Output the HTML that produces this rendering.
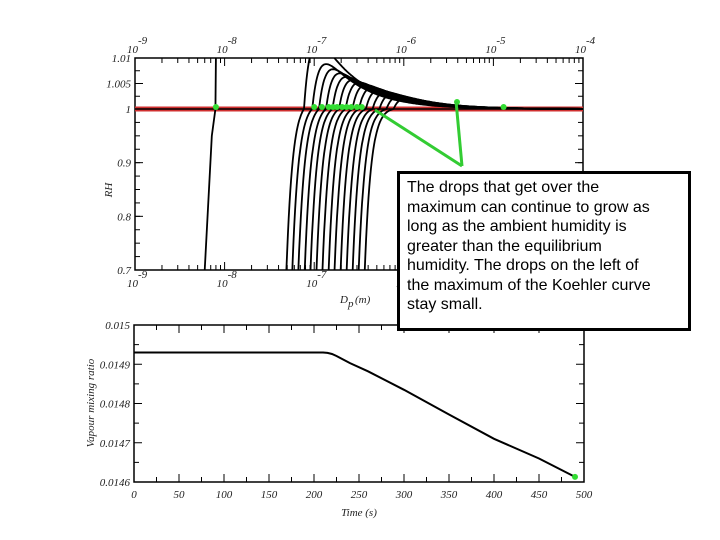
<!DOCTYPE html>
<html><head><meta charset="utf-8"><style>
html,body{margin:0;padding:0;background:#fff;width:720px;height:540px;overflow:hidden}
svg text{font-family:"Liberation Serif",serif;font-style:italic;font-size:11px;fill:#222}
#note{position:absolute;left:397px;top:171px;width:294px;height:160px;border:3px solid #000;background:#fff;
font-family:"Liberation Sans",sans-serif;font-size:16px;line-height:19.5px;color:#000;padding:4px 0 0 7px;box-sizing:border-box;white-space:nowrap}
</style></head><body>
<svg id="chart" width="720" height="540" style="position:absolute;left:0;top:0"></svg>
<div id="note">The drops that get over the<br>maximum can continue to grow as<br>long as the ambient humidity is<br>greater than the equilibrium<br>humidity. The drops on the left of<br>the maximum of the Koehler curve<br>stay small.</div>
<script>
// Koehler curves: critical diameter (m) and peak RH
const critDiam=[1.10e-7,1.36e-7,1.62e-7,1.94e-7,2.29e-7,2.71e-7,3.21e-7,3.82e-7,4.53e-7,5.40e-7,6.43e-7,7.65e-7,9.16e-7,1.10e-6];
const critRH=[1.013,1.0088,1.0078,1.007,1.0063,1.0057,1.0052,1.0047,1.0042,1.0037,1.0033,1.0029,1.0025,1.0021];
// small steep drop curve
const smallD=[6.0e-9,7.2e-9,7.9e-9,8.0e-9];
const smallRH=[0.7,0.95,1.0,1.01];
// green markers on RH=1
const markD=[8.0e-9,1.0e-7,1.22e-7,1.45e-7,1.62e-7,1.8e-7,2.05e-7,2.3e-7,2.6e-7,3.0e-7,3.4e-7,1.3e-5];
// time series
const timeS=[0,100,210,215,220,225,230,240,260,300,350,400,450,490];
const vmr=[0.01493,0.01493,0.01493,0.014929,0.014926,0.014921,0.014915,0.014903,0.014882,0.014835,0.014772,0.01471,0.01466,0.014613];
const xTicksT=[0,50,100,150,200,250,300,350,400,450,500];
const yTicksV=[0.0146,0.0147,0.0148,0.0149,0.015];
const yTicksRH=[0.7,0.8,0.9,1,1.005,1.01];

const S=document.getElementById('chart'),NS='http://www.w3.org/2000/svg';
function el(t,a,p){const e=document.createElementNS(NS,t);for(const k in a)e.setAttribute(k,a[k]);(p||S).appendChild(e);return e;}
const L=135,R=583,T=58,B=270;
const xD=d=>L+(Math.log10(d)+9)*(R-L)/5;
const yRH=v=>v>=1?109-(v-1)*5100:109+(1-v)*(B-109)/0.3;
const defs=el('defs',{});const cp=el('clipPath',{id:'c1'},defs);el('rect',{x:L,y:T,width:R-L,height:B-T},cp);
let f=el('rect',{x:L,y:T,width:R-L,height:B-T,fill:'none',stroke:'#000','stroke-width':1.5});

for(let e=-9;e<=-4;e++){for(let m=1;m<10;m++){if(e==-4&&m>1)break;const x=xD(m*Math.pow(10,e));const len=m==1?8:5;
el('line',{x1:x,y1:T,x2:x,y2:T+len,stroke:'#000'});el('line',{x1:x,y1:B,x2:x,y2:B-len,stroke:'#000'});}
for(const yy of [T-5,B+17]){const g=el('text',{x:xD(Math.pow(10,e))-8,y:yy});g.textContent='10';

const s=el('text',{x:xD(Math.pow(10,e))+3,y:yy-9,'font-size':8});s.textContent=String(e);}}
yTicksRH.forEach(v=>{const y=yRH(v);el('line',{x1:L,y1:y,x2:L+8,y2:y,stroke:'#000'});el('line',{x1:R,y1:y,x2:R-8,y2:y,stroke:'#000'});
const t=el('text',{x:L-4,y:y+4,'text-anchor':'end'});t.textContent=String(v);});
for(let v=0.725;v<1;v+=0.025){const y=yRH(v);el('line',{x1:L,y1:y,x2:L+5,y2:y,stroke:'#000'});el('line',{x1:R,y1:y,x2:R-5,y2:y,stroke:'#000'});}
[1.0025,1.0075].forEach(v=>{const y=yRH(v);el('line',{x1:L,y1:y,x2:L+5,y2:y,stroke:'#000'});el('line',{x1:R,y1:y,x2:R-5,y2:y,stroke:'#000'});});
let yl=el('text',{x:0,y:0,transform:'translate(112,190) rotate(-90)','text-anchor':'middle'});yl.textContent='RH';

let xl=el('text',{x:340,y:303});xl.textContent='D';
let xs=el('text',{x:348,y:307,'font-size':8});xs.textContent='p';let xl2=el('text',{x:355,y:303});xl2.textContent='(m)';
const g1=el('g',{'clip-path':'url(#c1)'});
el('line',{x1:L,y1:109,x2:R,y2:109,stroke:'#d03030','stroke-width':5},g1);
el('line',{x1:L,y1:109,x2:R,y2:109,stroke:'#000','stroke-width':1.5},g1);
critDiam.forEach((dc,i)=>{const A=1.2*(critRH[i]-1)*dc,Bk=A*Math.pow(dc,5)/6;let d='';
for(let k=0;k<=500;k++){const D=Math.pow(10,-8.5+k*4.5/500);const s=1+A/D-Bk/Math.pow(D,6);if(s<0.6)continue;d+=(d?'L':'M')+xD(D).toFixed(1)+','+yRH(s).toFixed(1);}
const p=el('path',{d:d,fill:'none',stroke:'#000','stroke-width':1.8},g1);
});
let sp=el('path',{d:smallD.map((d,i)=>(i?'L':'M')+xD(d)+','+yRH(smallRH[i])).join(''),fill:'none',stroke:'#000','stroke-width':1.8},g1);

markD.forEach(d=>{const c=el('circle',{cx:xD(d),cy:107,r:3,fill:'#33dd33'});});
el('circle',{cx:457,cy:102,r:3,fill:'#33dd33'});
el('line',{x1:462,y1:166,x2:375,y2:110,stroke:'#33cc33','stroke-width':3});
el('line',{x1:462,y1:166,x2:456,y2:101,stroke:'#33cc33','stroke-width':3});
const L2=134,R2=584,T2=325,B2=482;
const xT=t=>L2+t*(R2-L2)/500,yV=v=>B2-(v-0.0146)*(B2-T2)/0.0004;
f=el('rect',{x:L2,y:T2,width:R2-L2,height:B2-T2,fill:'none',stroke:'#000','stroke-width':1.5});

for(let t=0;t<=500;t+=25){const x=xT(t),len=t%50?5:8;el('line',{x1:x,y1:T2,x2:x,y2:T2+len,stroke:'#000'});el('line',{x1:x,y1:B2,x2:x,y2:B2-len,stroke:'#000'});}
xTicksT.forEach(t=>{const x=el('text',{x:xT(t),y:B2+16,'text-anchor':'middle'});x.textContent=String(t);});
for(let k=0;k<=8;k++){const y=B2-k*(B2-T2)/8,len=k%2?5:8;el('line',{x1:L2,y1:y,x2:L2+len,y2:y,stroke:'#000'});el('line',{x1:R2,y1:y,x2:R2-len,y2:y,stroke:'#000'});}
yTicksV.forEach(v=>{const t=el('text',{x:L2-4,y:yV(v)+4,'text-anchor':'end'});t.textContent=String(v);});
let tl=el('text',{x:359,y:516,'text-anchor':'middle','font-size':12});tl.textContent='Time (s)';
let vl=el('text',{x:0,y:0,transform:'translate(94,403) rotate(-90)','text-anchor':'middle'});vl.textContent='Vapour mixing ratio';
let vp=el('path',{d:timeS.map((t,i)=>(i?'L':'M')+xT(t)+','+yV(vmr[i]).toFixed(1)).join(''),fill:'none',stroke:'#000','stroke-width':2});

let gd=el('circle',{cx:xT(timeS[timeS.length-1]),cy:yV(vmr[vmr.length-1]),r:3,fill:'#33dd33'});
</script>
</body></html>
